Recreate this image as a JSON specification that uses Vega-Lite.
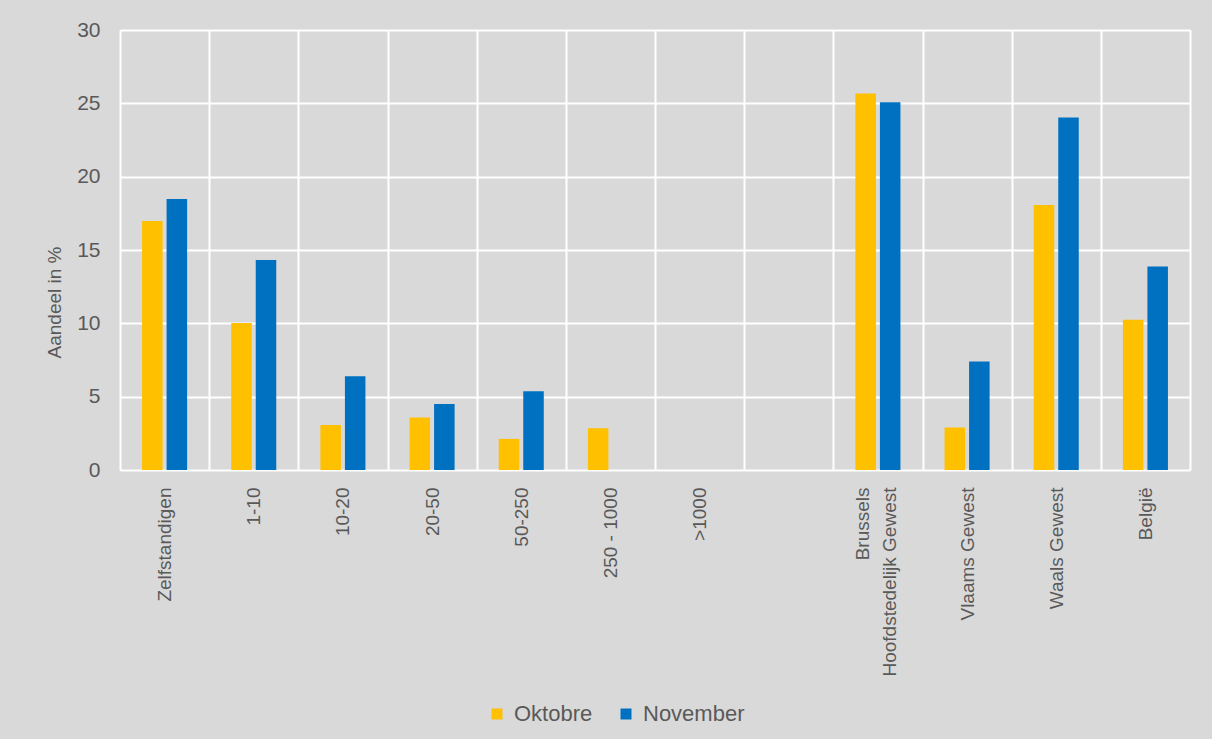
{
  "$schema": "https://vega.github.io/schema/vega-lite/v6.json",
  "width": 1070,
  "height": 440,
  "autosize": {"type": "none"},
  "padding": {"left": 120, "top": 30, "right": 22, "bottom": 269},
  "background": "#d9d9d9",
  "config": {"view": {"stroke": null}, "font": "Liberation Sans"},
  "data": {
    "values": [
      {"cat": "Zelfstandigen", "series": "Oktobre", "value": 16.98},
      {"cat": "Zelfstandigen", "series": "November", "value": 18.48},
      {"cat": "1-10", "series": "Oktobre", "value": 10.02},
      {"cat": "1-10", "series": "November", "value": 14.32},
      {"cat": "10-20", "series": "Oktobre", "value": 3.07},
      {"cat": "10-20", "series": "November", "value": 6.39},
      {"cat": "20-50", "series": "Oktobre", "value": 3.58},
      {"cat": "20-50", "series": "November", "value": 4.5},
      {"cat": "50-250", "series": "Oktobre", "value": 2.12},
      {"cat": "50-250", "series": "November", "value": 5.37},
      {"cat": "250 - 1000", "series": "Oktobre", "value": 2.85},
      {"cat": "Brussels Hoofdstedelijk Gewest", "series": "Oktobre", "value": 25.67},
      {"cat": "Brussels Hoofdstedelijk Gewest", "series": "November", "value": 25.08},
      {"cat": "Vlaams Gewest", "series": "Oktobre", "value": 2.9},
      {"cat": "Vlaams Gewest", "series": "November", "value": 7.39},
      {"cat": "Waals Gewest", "series": "Oktobre", "value": 18.07},
      {"cat": "Waals Gewest", "series": "November", "value": 24.04},
      {"cat": "België", "series": "Oktobre", "value": 10.25},
      {"cat": "België", "series": "November", "value": 13.88}
    ]
  },
  "mark": {"type": "bar"},
  "encoding": {
    "x": {
      "field": "cat",
      "type": "nominal",
      "sort": null,
      "scale": {
        "domain": ["Zelfstandigen", "1-10", "10-20", "20-50", "50-250", "250 - 1000", ">1000", " ", "Brussels Hoofdstedelijk Gewest", "Vlaams Gewest", "Waals Gewest", "België"],
        "paddingInner": 0,
        "paddingOuter": 0
      },
      "axis": {
        "title": null,
        "labelAngle": -90,
        "labelAlign": "right",
        "labelBaseline": "middle",
        "labelPadding": 17,
        "labelFontSize": 19,
        "labelColor": "#595959",
        "labelLineHeight": 27,
        "labelLimit": 400,
        "labelOffset": {"condition": {"test": "datum.value == 'Brussels Hoofdstedelijk Gewest'", "value": -15}, "value": 0},
        "ticks": false,
        "domain": false,
        "grid": true,
        "gridColor": "#ffffff",
        "gridWidth": 2,
        "tickBand": "extent",
        "labelExpr": "datum.value == 'Brussels Hoofdstedelijk Gewest' ? ['Brussels', 'Hoofdstedelijk Gewest'] : datum.label"
      }
    },
    "xOffset": {
      "field": "series",
      "type": "nominal",
      "sort": ["Oktobre", "November"],
      "scale": {"paddingInner": 0.163, "paddingOuter": 0.9}
    },
    "y": {
      "field": "value",
      "type": "quantitative",
      "scale": {"domain": [0, 30]},
      "axis": {
        "values": [0, 5, 10, 15, 20, 25, 30],
        "title": "Aandeel in %",
        "titleFontSize": 19,
        "titleFontWeight": "normal",
        "titleColor": "#595959",
        "titleAngle": 270,
        "titleAlign": "center",
        "titleBaseline": "middle",
        "titleX": -66,
        "titleY": 272,
        "labelFontSize": 21,
        "labelColor": "#595959",
        "labelPadding": 20,
        "ticks": false,
        "domain": false,
        "grid": true,
        "gridColor": "#ffffff",
        "gridWidth": 2
      }
    },
    "color": {
      "field": "series",
      "type": "nominal",
      "scale": {"domain": ["Oktobre", "November"], "range": ["#FFC000", "#0070C0"]},
      "legend": {
        "title": null,
        "orient": "none",
        "direction": "horizontal",
        "legendX": 366,
        "legendY": 673,
        "symbolType": "square",
        "symbolSize": 121,
        "symbolStrokeWidth": 0,
        "labelFontSize": 22,
        "labelColor": "#595959",
        "labelOffset": 6,
        "columnPadding": 22
      }
    }
  }
}
